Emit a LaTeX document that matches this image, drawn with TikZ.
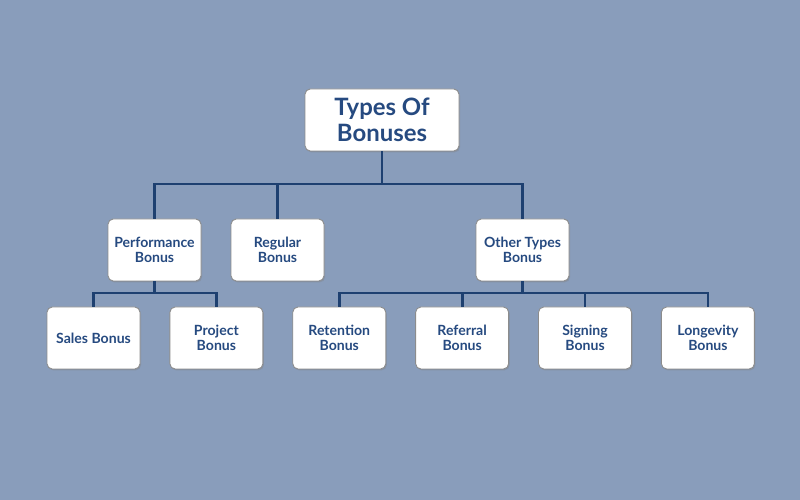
\documentclass[tikz,border=0pt]{standalone}
\usepackage{fontspec}
\setmainfont{Lato}
\usepackage{xcolor}
\usetikzlibrary{positioning,shadows}

\definecolor{bgblue}{RGB}{137,157,187}
\definecolor{linkblue}{RGB}{30,64,112}
\definecolor{textblue}{RGB}{38,74,128}

\begin{document}
\begin{tikzpicture}[
    node distance=0.58cm,
    card/.style={draw=black!45, line width=0.5pt, rounded corners=3pt, fill=white,
        drop shadow={shadow xshift=0.6pt, shadow yshift=-0.8pt, opacity=0.35},
        minimum width=1.86cm, minimum height=1.24cm, align=center,
        text=textblue, font=\bfseries\fontsize{8}{8.3}\selectfont},
    topcard/.style={card, minimum width=3.08cm,
        font=\bfseries\fontsize{13.6}{14.6}\selectfont},
    link/.style={draw=linkblue, line width=1.6pt}
]
    \fill[bgblue] (0,0) rectangle (16,10);
    \useasboundingbox (0,0) rectangle (16,10);

    % root and second level
    \node[topcard] (types) at (7.64,7.6) {Types Of\\Bonuses};
    \node[card] (perf) at (3.09,5.0) {Performance\\Bonus};
    \node[card] (regular) at (5.55,5.0) {Regular\\Bonus};
    \node[card] (other) at (10.45,5.0) {Other Types\\Bonus};

    % third level
    \node[card] (sales) at (1.87,3.24) {Sales Bonus};
    \node[card, right=of sales] (project) {Project\\Bonus};
    \node[card, right=of project] (retention) {Retention\\Bonus};
    \node[card, right=of retention] (referral) {Referral\\Bonus};
    \node[card, right=of referral] (signing) {Signing\\Bonus};
    \node[card, right=of signing] (longevity) {Longevity\\Bonus};

    \coordinate (bustop) at (0,6.32);
    \coordinate (buslow) at (0,4.14);

    \draw[link] (types.south) -- (types.south |- bustop);
    \draw[link] (perf.north) |- (other.north |- bustop) -- (other.north);
    \draw[link] (regular.north) -- (regular.north |- bustop);

    \draw[link] (perf.south) -- (perf.south |- buslow);
    \draw[link] (sales.north) |- (project.north |- buslow) -- (project.north);

    \draw[link] (other.south) -- (other.south |- buslow);
    \draw[link] (retention.north) |- (longevity.north |- buslow) -- (longevity.north);
    \draw[link] (referral.north) -- (referral.north |- buslow);
    \draw[link] (signing.north) -- (signing.north |- buslow);
\end{tikzpicture}
\end{document}
